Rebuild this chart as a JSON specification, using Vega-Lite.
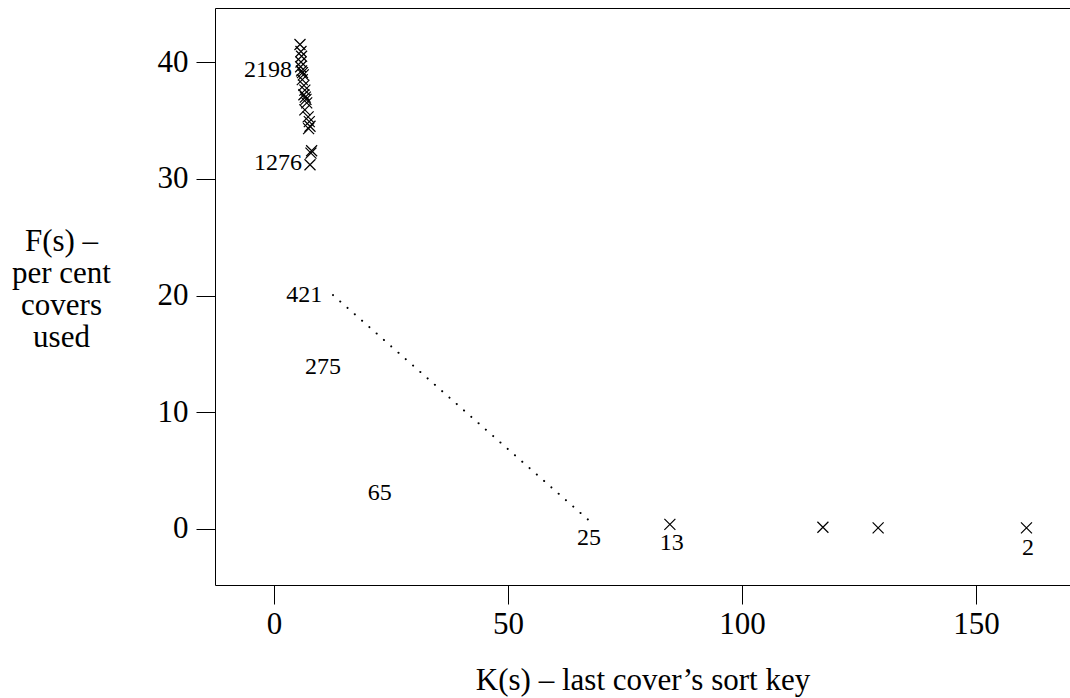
{
  "$schema": "https://vega.github.io/schema/vega-lite/v6.json",
  "width": 855,
  "height": 577,
  "autosize": {"type": "none"},
  "padding": {"left": 215, "top": 8, "right": 0, "bottom": 113},
  "background": "white",
  "config": {
    "view": {"stroke": null},
    "font": "Liberation Serif",
    "axis": {
      "grid": false,
      "domain": true,
      "domainColor": "black",
      "domainWidth": 1,
      "tickColor": "black",
      "tickWidth": 1,
      "tickSize": 19,
      "labelFont": "Liberation Serif",
      "labelFontSize": 31,
      "labelColor": "black",
      "titleFont": "Liberation Serif",
      "titleFontSize": 31,
      "titleFontWeight": "normal",
      "titleColor": "black"
    }
  },
  "datasets": {
    "pts": [
      {"k": 5.56, "f": 41.5}, {"k": 5.77, "f": 40.9}, {"k": 5.9, "f": 40.5}, {"k": 5.77, "f": 40.0},
      {"k": 5.7, "f": 39.6}, {"k": 5.9, "f": 39.25}, {"k": 6.1, "f": 39.1}, {"k": 6.27, "f": 38.9},
      {"k": 6.05, "f": 38.5}, {"k": 6.4, "f": 38.0}, {"k": 6.6, "f": 37.6}, {"k": 6.4, "f": 37.2},
      {"k": 6.7, "f": 37.0}, {"k": 6.84, "f": 36.8}, {"k": 7.0, "f": 36.5}, {"k": 6.6, "f": 35.9},
      {"k": 7.3, "f": 35.3}, {"k": 7.55, "f": 34.9}, {"k": 7.7, "f": 34.5}, {"k": 7.4, "f": 34.3},
      {"k": 8.05, "f": 32.4}, {"k": 7.9, "f": 32.2}, {"k": 7.7, "f": 31.2},
      {"k": 84.6, "f": 0.4}, {"k": 117.3, "f": 0.15}, {"k": 129.1, "f": 0.1}, {"k": 160.8, "f": 0.1}
    ],
    "line": [
      {"k": 12.6, "f": 20.04}, {"k": 67.4, "f": 0.7}
    ],
    "rlabels": [
      {"k": 3.85, "f": 39.3, "t": "2198"},
      {"k": 6.0, "f": 31.35, "t": "1276"},
      {"k": 10.3, "f": 20.04, "t": "421"}
    ],
    "clabels": [
      {"k": 10.5, "f": 13.9, "t": "275"},
      {"k": 22.6, "f": 3.1, "t": "65"},
      {"k": 67.3, "f": -0.77, "t": "25"},
      {"k": 85.0, "f": -1.2, "t": "13"},
      {"k": 161.1, "f": -1.63, "t": "2"}
    ]
  },
  "resolve": {"axis": {"x": "independent"}},
  "layer": [
    {
      "data": {"name": "pts"},
      "mark": {"type": "point", "shape": "M-1,-1L1,1M-1,1L1,-1", "size": 121, "stroke": "black", "strokeWidth": 1.2, "filled": false, "opacity": 1},
      "encoding": {
        "x": {"field": "k", "type": "quantitative", "scale": {"domain": [-12.6, 170.1], "nice": false, "zero": false},
              "axis": {"orient": "bottom", "values": [0, 50, 100, 150], "labelPadding": 5, "title": "K(s) – last cover’s sort key", "titleY": 104, "titleBaseline": "alphabetic"}},
        "y": {"field": "f", "type": "quantitative", "scale": {"domain": [-4.8, 44.63], "nice": false, "zero": false},
              "axis": {"values": [0, 10, 20, 30, 40], "labelPadding": 8, "title": ["F(s) –", "per cent", "covers", "used"], "titleAngle": 0, "titleAlign": "center", "titleBaseline": "alphabetic", "titleX": -154, "titleY": 242, "titleLineHeight": 32}}
      }
    },
    {
      "data": {"name": "line"},
      "mark": {"type": "line", "color": "black", "strokeWidth": 2, "strokeDash": [0.1, 9.6], "strokeCap": "round"},
      "encoding": {
        "x": {"field": "k", "type": "quantitative", "axis": {"orient": "top", "labels": false, "ticks": false, "title": null, "domain": true}},
        "y": {"field": "f", "type": "quantitative"}
      }
    },
    {
      "data": {"name": "rlabels"},
      "mark": {"type": "text", "align": "right", "baseline": "middle", "fontSize": 24, "font": "Liberation Serif", "color": "black"},
      "encoding": {
        "x": {"field": "k", "type": "quantitative", "axis": null},
        "y": {"field": "f", "type": "quantitative"},
        "text": {"field": "t"}
      }
    },
    {
      "data": {"name": "clabels"},
      "mark": {"type": "text", "align": "center", "baseline": "middle", "fontSize": 24, "font": "Liberation Serif", "color": "black"},
      "encoding": {
        "x": {"field": "k", "type": "quantitative", "axis": null},
        "y": {"field": "f", "type": "quantitative"},
        "text": {"field": "t"}
      }
    }
  ]
}
